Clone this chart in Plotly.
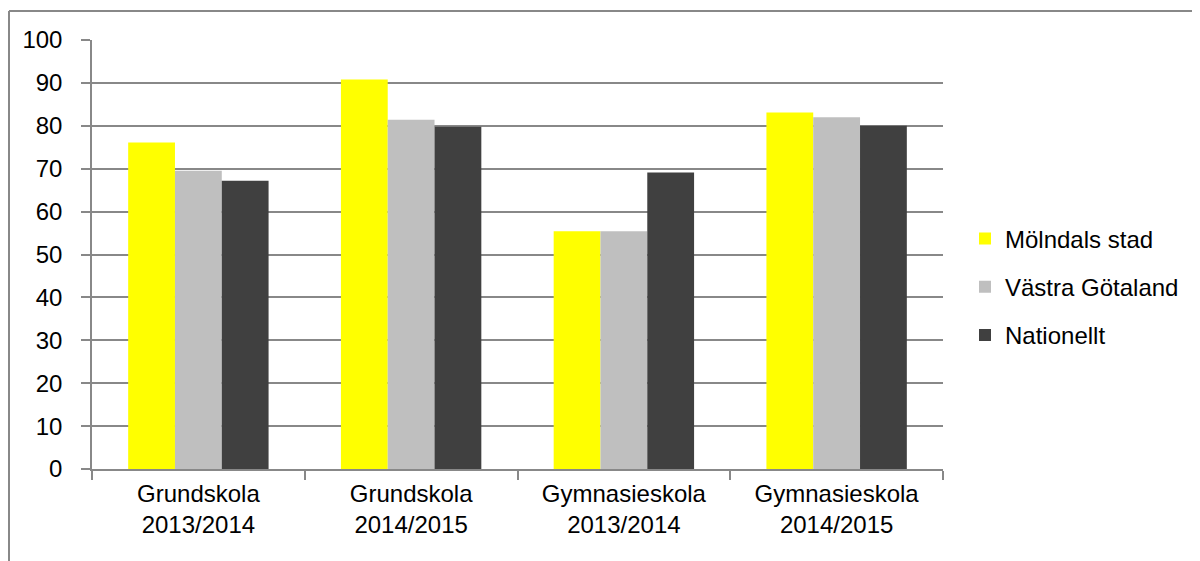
import plotly.graph_objects as go

categories = ["Grundskola<br>2013/2014", "Grundskola<br>2014/2015",
              "Gymnasieskola<br>2013/2014", "Gymnasieskola<br>2014/2015"]
molndal = [76.1, 90.8, 55.4, 83.1]
vastra = [69.5, 81.4, 55.4, 82.0]
nationellt = [67.2, 79.8, 69.1, 80.0]
series_names = ["Mölndals stad", "Västra Götaland", "Nationellt"]
colors = ["#FFFF00", "#BFBFBF", "#404040"]
y_ticks = [0, 10, 20, 30, 40, 50, 60, 70, 80, 90, 100]

fig = go.Figure()
for name, vals, col in zip(series_names, [molndal, vastra, nationellt], colors):
    fig.add_trace(go.Bar(x=categories, y=vals, name=name, marker_color=col,
                         marker_line_width=0, legendgroup=name))

# page has an 8px body margin; figure coordinates below are page - 8
OFF = 8
L, R, T, B = 92 - OFF, 943 - OFF, 40 - OFF, 469 - OFF
W, H = 1200 - OFF, 561 - OFF
PW, PH = R - L, B - T
fig.update_layout(
    width=W, height=H,
    margin=dict(l=L, r=W - R, t=T, b=H - B, pad=0),
    paper_bgcolor="white", plot_bgcolor="white",
    barmode="group", bargap=0.34, bargroupgap=0,
    font=dict(family="Liberation Sans, Arial, sans-serif", size=24, color="#000000"),
    legend=dict(x=(965 - OFF - L) / PW, y=(B - (287 - OFF)) / PH,
                yanchor="middle", xanchor="left",
                font=dict(size=24), itemwidth=30, tracegroupgap=14,
                bgcolor="rgba(0,0,0,0)", borderwidth=0),
    xaxis=dict(showline=True, linecolor="#888888", linewidth=1.5,
               ticks="outside", tickson="boundaries", ticklen=9,
               tickcolor="#888888", tickwidth=1.5, showgrid=False,
               tickfont=dict(size=24), ticklabelstandoff=2),
    yaxis=dict(range=[0, 100], tickvals=y_ticks, showline=True,
               linecolor="#888888", linewidth=1.5, ticks="outside", ticklen=9,
               tickcolor="#888888", tickwidth=1.5, showgrid=True,
               gridcolor="#888888", gridwidth=1.5, zeroline=False,
               tickfont=dict(size=24), ticklabelstandoff=14),
)

# outer chart frame (top and left edges visible)
fx = (9 - OFF - L) / PW
fy = (B - (11 - OFF)) / PH
fig.add_shape(type="line", xref="paper", yref="paper",
              x0=fx, x1=(W + 20 - L) / PW, y0=fy, y1=fy,
              line=dict(color="#888888", width=2))
fig.add_shape(type="line", xref="paper", yref="paper",
              x0=fx, x1=fx, y0=fy, y1=(B - (H + 20)) / PH,
              line=dict(color="#888888", width=2))

fig.write_html("out.html")
